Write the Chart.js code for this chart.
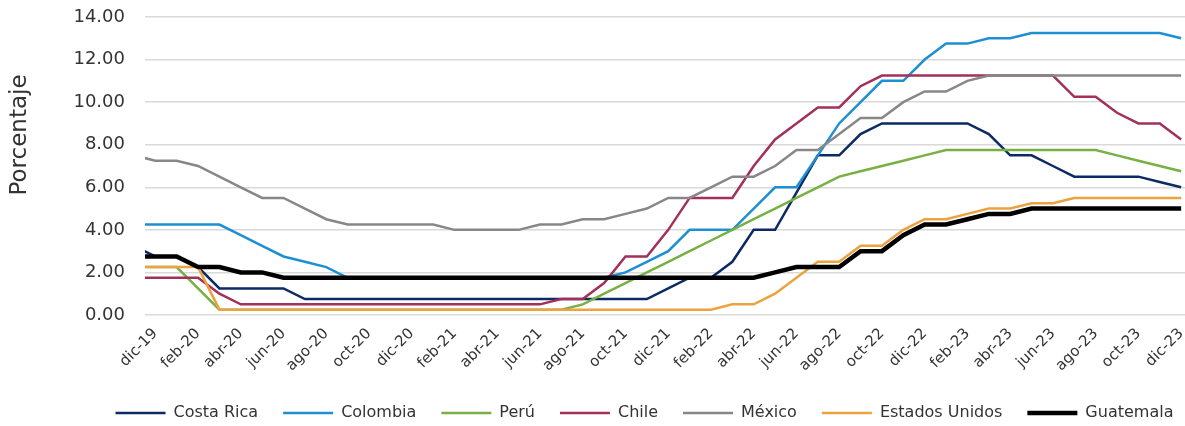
<!DOCTYPE html>
<html>
<head>
<meta charset="utf-8">
<script src="https://cdn.jsdelivr.net/npm/chart.js@4"></script>
<style>
  html, body { margin: 0; padding: 0; background: #fff; }
</style>
</head>
<body>
<canvas id="tasasChart" width="1185" height="426"></canvas>
<script>
// Tasas de politica monetaria, mensual (nov-19 solo para el tramo inicial)
const months = [
  'nov-19', 'dic-19',
  'ene-20', 'feb-20', 'mar-20', 'abr-20', 'may-20', 'jun-20', 'jul-20', 'ago-20', 'sep-20', 'oct-20', 'nov-20', 'dic-20',
  'ene-21', 'feb-21', 'mar-21', 'abr-21', 'may-21', 'jun-21', 'jul-21', 'ago-21', 'sep-21', 'oct-21', 'nov-21', 'dic-21',
  'ene-22', 'feb-22', 'mar-22', 'abr-22', 'may-22', 'jun-22', 'jul-22', 'ago-22', 'sep-22', 'oct-22', 'nov-22', 'dic-22',
  'ene-23', 'feb-23', 'mar-23', 'abr-23', 'may-23', 'jun-23', 'jul-23', 'ago-23', 'sep-23', 'oct-23', 'nov-23', 'dic-23'
];

const costaRica = [3.25, 2.75,
  2.75, 2.25, 1.25, 1.25, 1.25, 1.25, 0.75, 0.75, 0.75, 0.75, 0.75, 0.75,
  0.75, 0.75, 0.75, 0.75, 0.75, 0.75, 0.75, 0.75, 0.75, 0.75, 0.75, 1.25,
  1.75, 1.75, 2.5, 4.0, 4.0, 5.75, 7.5, 7.5, 8.5, 9.0, 9.0, 9.0,
  9.0, 9.0, 8.5, 7.5, 7.5, 7.0, 6.5, 6.5, 6.5, 6.5, 6.25, 6.0];

const colombia = [4.25, 4.25,
  4.25, 4.25, 4.25, 3.75, 3.25, 2.75, 2.5, 2.25, 1.75, 1.75, 1.75, 1.75,
  1.75, 1.75, 1.75, 1.75, 1.75, 1.75, 1.75, 1.75, 1.75, 2.0, 2.5, 3.0,
  4.0, 4.0, 4.0, 5.0, 6.0, 6.0, 7.5, 9.0, 10.0, 11.0, 11.0, 12.0,
  12.75, 12.75, 13.0, 13.0, 13.25, 13.25, 13.25, 13.25, 13.25, 13.25, 13.25, 13.0];

const peru = [2.25, 2.25,
  2.25, 1.25, 0.25, 0.25, 0.25, 0.25, 0.25, 0.25, 0.25, 0.25, 0.25, 0.25,
  0.25, 0.25, 0.25, 0.25, 0.25, 0.25, 0.25, 0.5, 1.0, 1.5, 2.0, 2.5,
  3.0, 3.5, 4.0, 4.5, 5.0, 5.5, 6.0, 6.5, 6.75, 7.0, 7.25, 7.5,
  7.75, 7.75, 7.75, 7.75, 7.75, 7.75, 7.75, 7.75, 7.5, 7.25, 7.0, 6.75];

const chile = [1.75, 1.75,
  1.75, 1.75, 1.0, 0.5, 0.5, 0.5, 0.5, 0.5, 0.5, 0.5, 0.5, 0.5,
  0.5, 0.5, 0.5, 0.5, 0.5, 0.5, 0.75, 0.75, 1.5, 2.75, 2.75, 4.0,
  5.5, 5.5, 5.5, 7.0, 8.25, 9.0, 9.75, 9.75, 10.75, 11.25, 11.25, 11.25,
  11.25, 11.25, 11.25, 11.25, 11.25, 11.25, 10.25, 10.25, 9.5, 9.0, 9.0, 8.25];

const mexico = [7.5, 7.25,
  7.25, 7.0, 6.5, 6.0, 5.5, 5.5, 5.0, 4.5, 4.25, 4.25, 4.25, 4.25,
  4.25, 4.0, 4.0, 4.0, 4.0, 4.25, 4.25, 4.5, 4.5, 4.75, 5.0, 5.5,
  5.5, 6.0, 6.5, 6.5, 7.0, 7.75, 7.75, 8.5, 9.25, 9.25, 10.0, 10.5,
  10.5, 11.0, 11.25, 11.25, 11.25, 11.25, 11.25, 11.25, 11.25, 11.25, 11.25, 11.25];

const estadosUnidos = [2.25, 2.25,
  2.25, 2.25, 0.25, 0.25, 0.25, 0.25, 0.25, 0.25, 0.25, 0.25, 0.25, 0.25,
  0.25, 0.25, 0.25, 0.25, 0.25, 0.25, 0.25, 0.25, 0.25, 0.25, 0.25, 0.25,
  0.25, 0.25, 0.5, 0.5, 1.0, 1.75, 2.5, 2.5, 3.25, 3.25, 4.0, 4.5,
  4.5, 4.75, 5.0, 5.0, 5.25, 5.25, 5.5, 5.5, 5.5, 5.5, 5.5, 5.5];

const guatemala = [2.75, 2.75,
  2.75, 2.25, 2.25, 2.0, 2.0, 1.75, 1.75, 1.75, 1.75, 1.75, 1.75, 1.75,
  1.75, 1.75, 1.75, 1.75, 1.75, 1.75, 1.75, 1.75, 1.75, 1.75, 1.75, 1.75,
  1.75, 1.75, 1.75, 1.75, 2.0, 2.25, 2.25, 2.25, 3.0, 3.0, 3.75, 4.25,
  4.25, 4.5, 4.75, 4.75, 5.0, 5.0, 5.0, 5.0, 5.0, 5.0, 5.0, 5.0];

const series = [
  { label: 'Costa Rica', values: costaRica, color: '#0c2a63', width: 2.5 },
  { label: 'Colombia', values: colombia, color: '#1e8fd2', width: 2.5 },
  { label: 'Perú', values: peru, color: '#77b143', width: 2.5 },
  { label: 'Chile', values: chile, color: '#a2305b', width: 2.5 },
  { label: 'México', values: mexico, color: '#878787', width: 2.5 },
  { label: 'Estados Unidos', values: estadosUnidos, color: '#eba23f', width: 2.5 },
  { label: 'Guatemala', values: guatemala, color: '#000000', width: 4.5 }
];

const FONT = '"DejaVu Sans", sans-serif';
const TEXT = '#333333';

// legend position and y title placement as in the original
const tweaks = {
  id: 'tweaks',
  afterLayout(chart) {
    const lg = chart.legend;
    lg.left += 52; lg.right += 52;
    lg.top += 5; lg.bottom += 5;
  },
  afterDraw(chart) {
    const ctx = chart.ctx;
    ctx.save();
    ctx.translate(20, 135);
    ctx.rotate(-Math.PI / 2);
    ctx.font = '23px ' + FONT;
    ctx.fillStyle = TEXT;
    ctx.textAlign = 'center';
    ctx.textBaseline = 'middle';
    ctx.fillText('Porcentaje', 0, 0);
    ctx.restore();
  }
};

const ctx = document.getElementById('tasasChart').getContext('2d');
new Chart(ctx, {
  type: 'line',
  data: {
    datasets: series.map((s, i) => ({
      label: s.label,
      data: s.values.map((v, j) => ({ x: j, y: v })),
      borderColor: s.color,
      backgroundColor: s.color,
      borderWidth: s.width,
      pointRadius: 0,
      tension: 0,
      clip: 0,
      order: series.length - 1 - i
    }))
  },
  options: {
    responsive: false,
    animation: false,
    layout: { padding: { top: 17, left: 0, right: 0, bottom: 0 } },
    plugins: {
      tooltip: { enabled: false },
      legend: {
        position: 'bottom',
        labels: {
          usePointStyle: true,
          pointStyle: 'line',
          pointStyleWidth: 50,
          padding: 25,
          color: TEXT,
          font: { family: FONT, size: 16 },
          sort: (a, b) => a.datasetIndex - b.datasetIndex
        }
      }
    },
    scales: {
      x: {
        type: 'linear',
        min: 0.518,
        max: 49.18,
        grid: { display: false, drawTicks: false },
        border: { display: false },
        afterBuildTicks: s => {
          s.ticks = months.map((m, i) => ({ value: i })).filter(t => t.value % 2 === 1);
        },
        afterFit: s => {
          s.paddingLeft = 0;
          s.paddingRight = 0;
          s.height = s.chart.height - 315 - s.chart.legend.height;
        },
        ticks: {
          autoSkip: false,
          minRotation: 45,
          maxRotation: 45,
          padding: 10,
          color: TEXT,
          font: { family: FONT, size: 15 },
          callback: v => months[v]
        }
      },
      y: {
        min: 0,
        max: 14,
        grid: { color: '#d9d9d9', lineWidth: 1.5, drawTicks: false },
        border: { display: false },
        afterFit: s => {
          s.width = 145;
          s.paddingTop = 0;
          s.paddingBottom = 0;
        },
        ticks: {
          stepSize: 2,
          padding: 20,
          color: TEXT,
          font: { family: FONT, size: 18 },
          callback: v => v.toFixed(2)
        }
      }
    }
  },
  plugins: [tweaks]
});
</script>
</body>
</html>
